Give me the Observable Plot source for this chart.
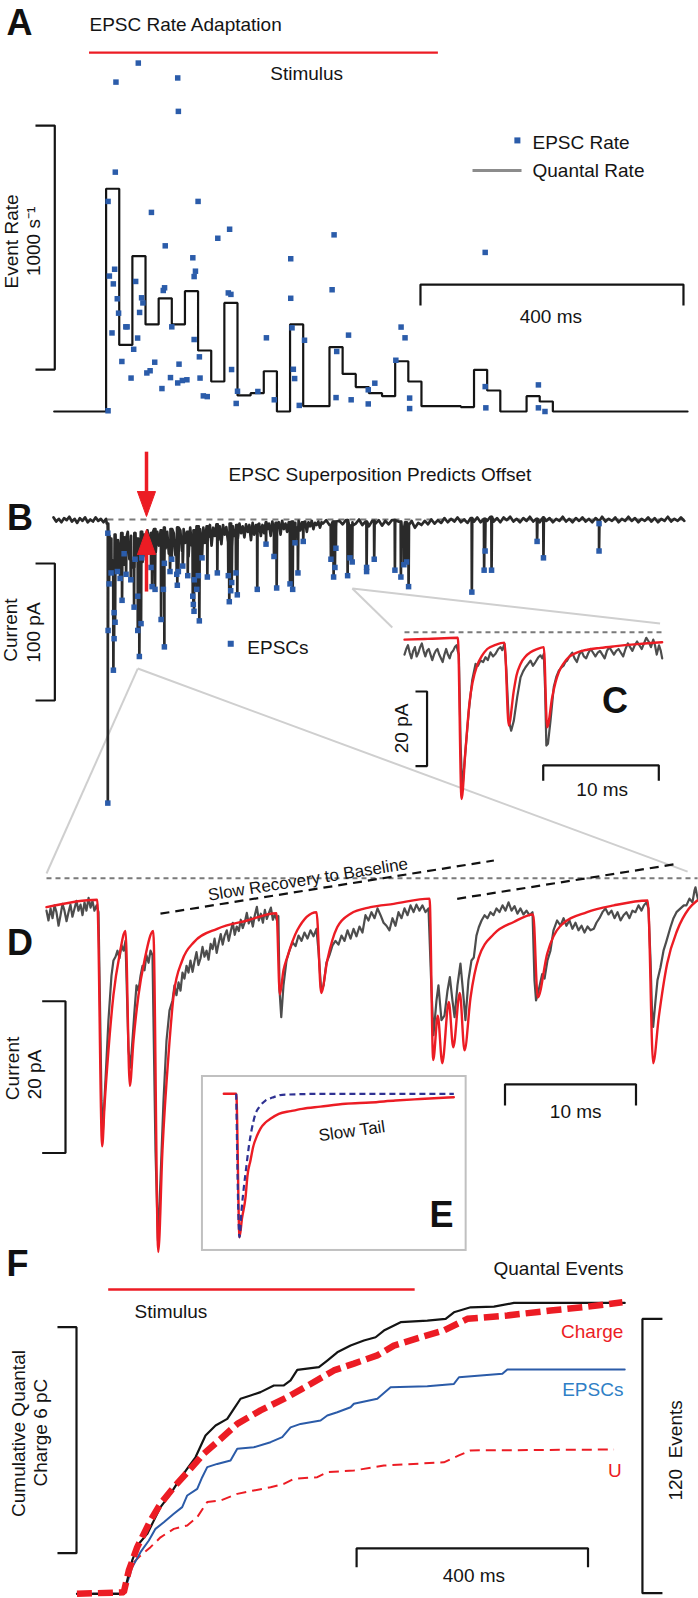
<!DOCTYPE html>
<html><head><meta charset="utf-8">
<script src="https://cdn.jsdelivr.net/npm/d3@7"></script>
<script src="https://cdn.jsdelivr.net/npm/@observablehq/plot@0.6"></script>
<style>
html,body{margin:0;padding:0;background:#fff;}
#fig{position:relative;width:698px;height:1598px;overflow:hidden;background:#fff;}
#fig svg{position:absolute;left:0;top:0;}
</style></head><body><div id="fig"></div>
<script>
// ---------- Panel A: EPSC rate (s^-1) vs time (ms) ----------
const aBinStart = [0,20,40,60,80,100,120,140,160,180,200,220,240,260,280,300,320,340,360,380,400,420,440,460,480,500,520,540,560,580,600,620,640,660];
const aBinRate  = [913,273,637,357,464,357,493,250,123,445,66,75,165,0,357,22,22,264,154,100,75,63,206,123,22,22,22,18,171,86,0,0,63,41];
const aEpsc = [[49,1428],[15,1350],[109,1367],[110,1230],[14,981],[3,861],[140,861],[69,816],[188,747],[170,710],[90,679],[347,724],[577,652],[281,626],[132,630],[13,583],[5,555],[45,533],[136,575],[134,553],[11,523],[89,507],[87,496],[186,486],[190,480],[344,499],[281,464],[17,462],[54,466],[56,445],[19,403],[51,406],[30,347],[32,347],[100,347],[283,343],[449,346],[9,322],[369,313],[244,302],[48,301],[455,302],[134,295],[302,292],[42,255],[351,246],[142,224],[441,210],[24,205],[74,202],[111,194],[67,167],[62,158],[191,172],[285,173],[38,137],[98,139],[287,135],[143,137],[123,130],[116,127],[109,117],[409,116],[658,109],[577,102],[85,94],[399,89],[200,83],[231,82],[148,64],[154,61],[350,57],[373,48],[462,55],[256,48],[198,33],[399,31],[294,25],[462,12],[578,15],[658,15],[668,0],[3,3]];

// ---------- Panel B: current (pA) vs time (ms) ----------
const bBase = [[-80,1.5],[-76,-1.5],[-72,0.5],[-68,-2],[-64,1],[-60,-0.5],[-56,2],[-52,-1.5],[-48,0.5],[-44,-2.5],[-40,1],[-36,-1],[-32,1.5],[-28,-2],[-24,0],[-20,-1.5],[-16,1.5],[-12,-1],[-8,0.5],[-4,-2],[0,0.5],[1,-3],
[3,-12],[5.5,-36],[8,-14],[10.5,-30],[13,-11],[15.5,-38],[18,-15],[20.5,-27],[23,-10],[25.5,-33],[28,-13],[30.5,-40],[33,-9],[35.5,-29],[38,-12],[40.5,-35],[43,-10],[45.5,-26],[48,-14],[50.5,-37],[53,-9],[55.5,-31],[58,-11],
[60.5,-27],[63,-8],[65.5,-22],[68,-10],[70.5,-30],[73,-7],[75.5,-24],[78,-9],[80.5,-19],[83,-8],[85.5,-28],[88,-6],[90.5,-21],[93,-9],[95.5,-25],[98,-7],[100.5,-18],[103,-10],[105.5,-26],[108,-6],[110.5,-20],[113,-8],[115.5,-23],[118,-7],[120.5,-17],[123,-9],[125.5,-27],[128,-6],[130.5,-19],[133,-8],[135.5,-22],[138,-5],[140.5,-16],[143,-7],[145.5,-20],[148,-6],
[150.5,-17],[153,-5],[155.5,-13],[158,-4],[160.5,-19],[163,-6],[165.5,-12],[168,-3.5],[170.5,-15],[173,-5],[175.5,-18],[178,-4],[180.5,-11],[183,-5.5],[185.5,-16],[188,-3],[190.5,-20],[193,-5],[195.5,-12],[198,-4],[200.5,-14],[203,-3],[205.5,-10],[208,-5],[210.5,-13],[213,-3.5],[215.5,-9],[218,-4],[220.5,-15],[223,-2.5],[225.5,-11],[228,-4],[230.5,-8],[233,-3],[235.5,-12],[238,-4],
[240.5,-10],[243,-2],[245.5,-7],[248,-3],[250.5,-12],[253,-1.5],[255.5,-8],[258,-2.5],[260.5,-6],[263,-2],[265.5,-11],[268,-1],[270.5,-7],[273,-3],[275.5,-9],[278,-2],[280.5,-5],[283,-1.5],[285.5,-10],[288,-2.5],[290.5,-6],[293,-1],[295.5,-8],[298,-2],[300.5,-4.5],[303,-1.5],[305.5,-9],[308,-2],[310.5,-5],[313,-1],[315.5,-7],[318,-2.5],[320.5,-4],[323,-1.5],[325.5,-6],[328,-2],
[330,-3],[335,-0.5],[340,-4],[345,-1.5],[350,-5],[355,-1],[360,-3.5],[365,-0.5],[370,-4.5],[375,-2],[380,-3],[385,0],[390,-4],[395,-1.5],[400,-5],[405,-1],[410,-3],[415,-0.5],[420,-4.5],[425,-1],[430,-3.5],[435,-0.5],[440,-4],[445,-1.5],[450,-5.5],[455,-2],[460,-4],[465,-1],[470,-6],[475,-2.5],[480,-4],[485,-1],[490,-3.5],[495,0],[500,-3],[505,-0.5],[510,-2.5],[515,1],[520,-2],[525,0.5],[530,-1.5],[535,1.5],[540,-2],[545,0],[550,-2.5],[555,1],[560,-1.5],[565,1.5],[570,-2],[575,0.5],[580,-1],[585,2],[590,-1.5],[595,1],[600,-2],[605,1.5],[610,-0.5],[615,2],[620,-1.5],[625,0.5],[630,-2],[635,1],[640,-1],[645,2],[650,-1.5],[655,0.5],[660,-2],[665,1.5],[670,-1],[675,1],[680,-2],[685,0.5],[690,-1],[695,2],[700,-1.5],[705,0.5],[710,-2],[715,1],[720,-1],[725,1.5],[730,-1.5],[735,0.5],[740,-2],[745,1],[750,-1],[755,2],[760,-1.5],[765,0.5],[770,-1],[775,1.5],[780,-2],[785,0.5],[790,-1],[795,2],[800,-1],[805,1],[810,-2],[815,0.5],[820,-1],[825,1.5],[830,-1.5],[835,1],[840,-2],[845,0.5],[850,-1],[855,2],[860,-1.5],[865,0.5],[870,-1],[875,1.5],[880,-1]];
const bEpsc = [[2.6,-10],[7.6,-39],[4.6,-47],[3,-81],[12.2,-68],[13.7,-75],[12.2,-87],[11.1,-110],[2.6,-207],[17.2,-38],[21.3,-43],[27.4,-25],[24.3,-59],[30.4,-40],[37.6,-44],[42.6,-64],[44.1,-29],[48.2,-56],[48.2,-81],[53.2,-76],[50.6,-100],[54.3,-28],[68.4,-35],[70,-49],[74.5,-51],[87.2,-51],[83.7,-73],[88.7,-93],[88.7,-32],[97.3,-38],[99.9,-29],[107.5,-40],[110,-38],[108.4,-48],[116.7,-34],[124.3,-41],[131.9,-56],[132.8,-62],[133.8,-67],[134.3,-44],[138,-51],[140.4,-41],[141.9,-74],[146,-28],[154.1,-42],[169.3,-39],[186,-41],[191.2,-46],[189.7,-52],[187.5,-60],[197.7,-39],[199.7,-55],[230.1,-51],[243.4,-18],[255.5,-27],[259.6,-50],[279.9,-47],[284,-51],[287.5,-17],[292,-39],[300.1,-16],[342.2,-29],[349.8,-21],[348.3,-35],[346.3,-42],[367.6,-41],[371.1,-28],[374.6,-31],[396.5,-35],[396.5,-38],[408.1,-29],[439.6,-37],[448.7,-42],[453.3,-33],[457.4,-31],[460.4,-49],[556.7,-53],[576.9,-23],[575.4,-37],[586.7,-37],[656,-16],[665.7,-28],[750.3,-3],[750.3,-23]];

// ---------- Panel C: current (pA) vs time (ms) ----------
const cFit = [[0,-2],[2,-1.8],[4.61,-1.5],[4.93,-44.7],[5.27,-31.7],[5.64,-18.3],[5.88,-13.5],[6.28,-8.9],[6.66,-6.5],[7.15,-4.5],[7.87,-3.4],[8.64,-2.8],[9.01,-25],[9.45,-15.6],[9.68,-11.6],[10.03,-8.5],[10.46,-6.5],[10.89,-5.4],[11.41,-4.6],[12.04,-4],[12.33,-25.5],[12.77,-17.4],[13.05,-13.5],[13.34,-10.7],[13.74,-8.4],[14.2,-6.7],[14.95,-5.4],[15.79,-4.7],[16.94,-4.2],[18.09,-3.8],[20.14,-3.2],[22.27,-2.7]];
const cRaw = [[0,-6],[0.15,-4.5],[0.3,-3.5],[0.45,-5.5],[0.6,-7],[0.75,-5],[0.9,-4],[1.05,-6.5],[1.2,-5.5],[1.35,-4],[1.5,-3],[1.65,-5],[1.8,-6.5],[1.95,-5],[2.1,-4.5],[2.25,-6],[2.4,-7.5],[2.55,-6],[2.7,-5],[2.85,-4.5],[3.0,-6],[3.15,-7],[3.3,-8],[3.45,-6],[3.6,-4.5],[3.75,-6],[3.9,-7],[4.05,-5.5],[4.2,-5],[4.35,-4],[4.5,-3.5],[4.6,-5],[4.7,-6],[4.85,-30],[4.99,-42.4],[5.27,-31.7],[5.56,-21],[5.85,-12.9],[6.14,-8.5],[6.35,-9],[6.57,-7.6],[6.8,-8],[7.0,-6.7],[7.2,-7.5],[7.43,-5.4],[7.65,-6.5],[7.87,-5.8],[8.1,-4.5],[8.3,-4.0],[8.45,-4.8],[8.64,-3.1],[8.8,-10],[9.01,-23.7],[9.22,-26.4],[9.45,-23.7],[9.74,-17.4],[10.03,-12.1],[10.25,-10.5],[10.46,-9.4],[10.68,-8.5],[10.89,-7.6],[11.1,-9],[11.32,-8],[11.55,-6.8],[11.75,-6.2],[11.9,-7],[12.04,-5.8],[12.15,-15],[12.26,-30.4],[12.4,-29.9],[12.62,-23.7],[12.9,-14.7],[13.12,-12],[13.34,-10.3],[13.55,-9.5],[13.77,-8.9],[13.9,-8],[14.06,-7.6],[14.25,-6.5],[14.5,-5.5],[14.7,-7],[14.9,-8],[15.1,-6],[15.3,-5],[15.5,-6.5],[15.7,-7],[15.9,-5.5],[16.1,-4.5],[16.3,-5.5],[16.5,-6.5],[16.7,-5.5],[16.9,-5],[17.1,-6],[17.3,-7],[17.5,-5],[17.7,-4],[17.9,-5],[18.1,-6],[18.3,-5],[18.5,-4.5],[18.7,-5.5],[18.9,-6.5],[19.1,-4.5],[19.3,-3],[19.5,-4],[19.7,-5],[19.9,-3.5],[20.1,-2.5],[20.3,-3.5],[20.5,-4.5],[20.7,-3],[20.9,-1.5],[21.1,-2.5],[21.3,-4],[21.5,-2],[21.65,-3.5],[21.8,-6],[22.0,-3.5],[22.15,-5],[22.27,-7]];

// ---------- Panel D: current (pA) vs time (ms) ----------
const dFit = [[0,-3.84],[3.87,-2.86],[4.25,-35.5],[4.43,-30.1],[4.73,-22.8],[5.11,-15.5],[5.57,-10.2],[6.03,-7.0],[6.36,-27.5],[6.64,-21.5],[7.02,-15.5],[7.48,-10.9],[8.15,-7.0],[8.53,-49.5],[8.85,-36.1],[9.34,-22.8],[9.72,-15.3],[10.36,-10.9],[11.24,-8.5],[13.03,-6.7],[15.32,-5.6],[17.56,-4.64],[17.81,-15.4],[18.09,-12.2],[18.37,-10.5],[19.14,-6.9],[20.61,-4.5],[20.97,-15.2],[21.43,-10.9],[22.19,-6.5],[23.21,-4.7],[24.73,-3.84],[26.51,-3.4],[29.24,-2.7],[29.52,-24.1],[29.87,-18.2],[30.21,-24.5],[30.71,-16.4],[31.05,-22.4],[31.55,-15.2],[31.91,-22.8],[32.37,-15.8],[33.0,-10.5],[34.15,-7.4],[35.67,-5.8],[37.15,-4.8],[37.5,-15.8],[38.22,-10.0],[39.24,-6.3],[41.27,-4.5],[43.31,-3.6],[45.9,-2.95],[46.31,-24.5],[46.74,-18.4],[47.38,-11.3],[48.15,-6.9],[49.03,-4.05],[49.67,-2.95]];
const dRaw = [[0,-4.3],[0.15,-5.6],[0.31,-4.0],[0.46,-5.3],[0.61,-3.6],[0.76,-4.5],[0.92,-6.3],[1.07,-4.9],[1.22,-3.4],[1.37,-4.3],[1.53,-5.7],[1.68,-4.5],[1.83,-3.5],[1.98,-5.1],[2.14,-4.0],[2.29,-3.0],[2.44,-4.3],[2.6,-3.5],[2.75,-4.9],[2.9,-3.2],[3.05,-4.3],[3.21,-2.6],[3.36,-3.9],[3.51,-3.0],[3.66,-4.3],[3.82,-3.6],[3.97,-4.5],
[4.20,-29.5],[4.31,-33.4],[4.50,-26.8],[4.73,-18.8],[4.96,-12.9],[5.11,-10.9],[5.27,-10.4],[5.42,-9.6],[5.57,-10.6],[5.73,-8.9],[5.88,-9.6],[6.03,-8.3],[6.26,-22.8],[6.41,-25.1],[6.56,-21.5],[6.72,-17.5],[6.87,-14.2],[7.02,-14.9],[7.18,-12.9],[7.33,-11.6],[7.48,-12.2],[7.63,-10.2],[7.79,-11.2],[7.94,-9.6],[8.09,-10.2],[8.32,-36.1],[8.51,-48.0],[8.70,-40.0],[8.93,-29.5],[9.16,-21.5],[9.39,-17.5],[9.62,-16.2],[9.77,-14.2],[9.92,-15.5],[10.08,-13.8],[10.23,-14.9],[10.38,-12.5],[10.53,-13.3],[10.69,-11.6],[10.84,-12.5],
[10.99,-10.9],[11.15,-12.4],[11.3,-11.0],[11.45,-9.8],[11.6,-11.5],[11.76,-10.6],[11.91,-9.1],[12.06,-10.4],[12.22,-9.6],[12.37,-10.8],[12.53,-8.7],[12.68,-9.4],[12.83,-8.0],[12.99,-9.9],[13.14,-8.6],[13.3,-7.4],[13.45,-8.8],[13.6,-7.6],[13.76,-6.9],[13.91,-8.3],[14.06,-7.1],[14.22,-5.9],[14.37,-7.5],[14.52,-6.4],[14.68,-7.0],[14.83,-5.5],[14.98,-6.6],[15.14,-5.8],[15.29,-4.6],[15.44,-6.0],[15.6,-5.2],[15.75,-6.4],[15.9,-4.9],[16.06,-3.8],[16.21,-5.6],[16.36,-4.7],[16.52,-5.9],[16.67,-4.2],[16.82,-5.4],[16.98,-4.6],[17.13,-3.9],[17.28,-5.5],[17.44,-4.8],[17.59,-5.6],[17.7,-5.0],
[17.79,-14.9],[17.92,-18.4],[18.09,-14.2],[18.32,-10.9],[18.55,-9.6],[18.78,-8.5],[19.01,-9.0],[19.24,-7.6],[19.47,-8.3],[19.69,-7.2],[19.92,-8.0],[20.15,-6.9],[20.38,-7.7],[20.61,-6.7],[20.76,-9.6],[20.97,-14.9],[21.15,-14.2],[21.37,-11.2],[21.60,-10.2],[21.83,-8.9],[22.06,-8.3],[22.29,-8.8],[22.52,-7.6],[22.75,-8.3],[22.98,-6.9],[23.21,-8.0],[23.44,-6.7],[23.66,-7.7],[23.89,-6.4],[24.12,-7.2],[24.35,-4.9],[24.58,-5.6],[24.81,-4.5],[25.04,-5.3],[25.27,-4.0],[25.50,-4.9],[25.73,-5.9],[25.95,-6.3],[26.18,-6.9],[26.41,-5.3],[26.64,-6.3],[26.87,-4.5],[27.10,-5.3],[27.33,-4.0],[27.56,-4.9],[27.79,-3.6],[28.02,-4.5],[28.24,-3.5],[28.47,-4.3],[28.70,-3.6],[28.93,-4.5],[29.16,-4.0],
[29.39,-14.9],[29.54,-20.8],[29.77,-16.2],[29.92,-14.2],[30.15,-18.8],[30.38,-18.2],[30.61,-14.9],[30.79,-13.1],[30.99,-16.2],[31.15,-18.4],[31.37,-14.2],[31.60,-11.3],[31.79,-14.9],[31.98,-18.8],[32.21,-13.5],[32.44,-10.9],[32.62,-10.5],[32.82,-7.6],[33.0,-6.5],[33.21,-5.6],[33.44,-4.9],[33.66,-5.3],[33.89,-4.5],[34.12,-4.9],[34.35,-4.0],[34.58,-4.5],[34.81,-3.6],[35.04,-4.3],[35.27,-3.2],[35.50,-4.3],[35.73,-3.7],[35.95,-4.7],[36.18,-4.0],[36.41,-4.8],[36.64,-4.3],[36.87,-4.9],[37.10,-4.5],
[37.25,-13.5],[37.37,-16.2],[37.56,-14.9],[37.84,-12.7],[38.02,-13.3],[38.24,-10.9],[38.47,-9.6],[38.70,-6.9],[38.98,-5.6],[39.24,-6.3],[39.47,-5.3],[39.69,-6.3],[39.92,-5.6],[40.15,-6.7],[40.38,-5.9],[40.61,-6.9],[40.84,-6.3],[41.07,-7.2],[41.30,-6.4],[41.53,-6.9],[41.78,-6.7],[41.98,-5.9],[42.21,-5.3],[42.44,-4.5],[42.67,-4.0],[42.90,-4.8],[43.13,-4.3],[43.36,-5.3],[43.59,-4.5],[43.82,-5.6],[44.05,-4.9],[44.27,-4.5],[44.50,-5.3],[44.73,-4.3],[44.96,-4.5],[45.19,-3.6],[45.42,-4.3],[45.60,-3.6],[45.80,-3.2],[45.95,-4.0],
[46.11,-10.9],[46.22,-17.5],[46.31,-19.7],[46.49,-16.2],[46.64,-13.5],[46.87,-11.8],[47.10,-9.6],[47.33,-8.3],[47.63,-6.5],[47.86,-5.3],[48.09,-4.5],[48.40,-4.0],[48.65,-3.6],[48.85,-3.6],[49.08,-2.7],[49.31,-3.2],[49.47,-1.6],[49.54,-1.2],[49.66,-2.3],[49.77,-3.0]];

// ---------- Panel E: model EPSC (same units as D) ----------
const eRed  = [[0,0],[0.95,0],[1.2,-19],[1.39,-16.5],[1.66,-13.7],[1.81,-10.8],[2.04,-8.8],[2.23,-7.1],[2.55,-5.5],[2.8,-4.6],[3.18,-3.8],[3.56,-3.3],[4.2,-2.65],[5.09,-2.3],[5.98,-1.99],[7.38,-1.7],[9.29,-1.32],[11.2,-1.15],[13.1,-0.89],[15,-0.69],[17.56,-0.45]];
const eBlue = [[0.95,0],[1.2,-19],[1.35,-15.5],[1.53,-12.4],[1.73,-9.5],[1.91,-7.0],[2.11,-4.9],[2.42,-2.65],[2.73,-1.7],[3.18,-0.89],[3.72,-0.5],[4.46,-0.13],[8.02,0],[17.56,0]];

// ---------- Panel F: cumulative counts (events) / charge (pC) vs time (ms) ----------
const fQuantal = [[-81,0],[0,0],[8.7,8.7],[14.5,14.6],[26,21.9],[40.5,26.2],[51.9,32],[63.5,37.9],[80.8,43.7],[95.2,49.5],[109.7,54.7],[124,59.7],[141.3,69.2],[158.7,73.6],[178.9,76.5],[190.3,80.9],[201.9,85.3],[219.2,86.7],[236.5,88.2],[259.5,91.1],[276.8,91.1],[288.4,93.3],[300,97.9],[337.4,99.1],[351.9,102],[369.2,105.6],[392.2,108.6],[415.2,110.8],[435.5,112.2],[449.8,115.1],[478.7,118.8],[524.9,119.5],[556.6,120.2],[570.9,123.1],[599.8,125.3],[640.1,125.6],[674.7,127.2],[866.3,127.2]];
const fEpscs = [[-81,0],[0,0],[14.5,11.6],[28.9,18.2],[43.3,23.3],[54.8,28.4],[69.2,31.3],[86.5,35],[101,37.9],[109.7,43],[127,45.9],[135.6,51],[144.3,55.4],[161.6,56.8],[184.6,58.3],[196.2,63.4],[224.9,64.1],[253.8,66.3],[274,68.5],[288.4,72.8],[305.7,74.3],[340.3,75.8],[351.9,78],[369.2,79.4],[392.2,81.6],[397.9,83.1],[438.4,85.3],[461.4,90.3],[524.9,90.8],[570.9,91.8],[579.6,94.7],[654.7,96.2],[663.3,98.1],[866.3,98.1]];
const fU = [[-81,0],[0,0],[14.5,13.1],[28.9,16.7],[46.2,20.4],[63.5,24.7],[86.5,28.4],[109.7,29.9],[127,33.5],[138.4,37.9],[144.3,40.1],[167.3,40.8],[196.2,43.7],[224.9,45.2],[253.8,46.6],[276.8,48.1],[294.1,50.3],[334.6,51],[351.9,53.2],[397.9,53.9],[432.5,55.4],[449.8,56.1],[553.6,57.5],[579.6,60.5],[599.8,62.7],[847.8,63.1]];
const fCharge = [[-81,0],[0,0.04],[8.7,0.62],[23.2,1.24],[46.2,1.95],[63.5,2.39],[86.5,2.83],[112.5,3.27],[138.4,3.72],[167.3,4.11],[196.2,4.51],[236.5,4.87],[282.7,5.22],[323,5.57],[363.3,5.93],[397.9,6.11],[438.4,6.33],[467.1,6.59],[513.3,6.81],[553.6,6.99],[594.1,7.3],[663.3,7.39],[738.2,7.52],[796,7.61],[862.3,7.74]];

// ---------- drawing ----------
const W = 698, H = 1598;
const RED = "#ec1c24", BLUE = "#2b5caa", INK = "#141414";
const FONT = "'Liberation Sans', Arial, Helvetica, sans-serif";
const fig = document.getElementById("fig");
function panel(x, y, marks) {
  const svg = Plot.plot({width: W, height: H, margin: 0,
    x: {...x, axis: null}, y: {...y, axis: null},
    style: {background: "transparent", overflow: "visible", fontFamily: FONT},
    marks});
  fig.appendChild(svg);
}
const pts = arr => arr.map(([x, y]) => ({x, y}));
const txt = (x, y, text, o = {}) => Plot.text([{x, y, text}], {x: "x", y: "y", text: "text", fontSize: 19, fill: INK, ...o});
const seg = (arr, o = {}) => Plot.line(pts(arr), {x: "x", y: "y", stroke: INK, strokeWidth: 2.2, strokeLinecap: "butt", strokeLinejoin: "miter", ...o});
const letter = (x, y, s) => txt(x, y, s, {fontSize: 36, fontWeight: "bold", fill: "#111"});

// Panel A
const aStep = [[-79, 0], ...aBinStart.map((t, i) => [t, aBinRate[i]]), [680, 0], [885, 0]];
panel({domain: [0, 400], range: [105.6, 368.4]}, {domain: [0, 1000], range: [411, 167]}, [
  letter(-131.8, 1592, "A"),
  txt(-25.3, 1586, "EPSC Rate Adaptation", {textAnchor: "start"}),
  seg([[-26, 1471], [505, 1471]], {stroke: RED, strokeWidth: 2.4}),
  txt(305.3, 1385, "Stimulus"),
  seg([[-107.5, 1172], [-78.1, 1172], [-78.1, 172], [-107.5, 172]]),
  txt(-144, 697, "Event Rate", {rotate: -90}),
  txt(-109.7, 697, "1000 s\u207B\u00B9", {rotate: -90}),
  Plot.line(pts(aStep), {x: "x", y: "y", curve: "step-after", stroke: INK, strokeWidth: 2.2, strokeLinejoin: "miter"}),
  Plot.dot(pts(aEpsc), {x: "x", y: "y", symbol: "square", r: 3.1, fill: BLUE}),
  Plot.dot([{x: 626, y: 1111}], {x: "x", y: "y", symbol: "square", r: 3.4, fill: BLUE}),
  txt(649, 1102, "EPSC Rate", {textAnchor: "start"}),
  seg([[557.7, 988], [632.3, 988]], {stroke: "#8c8c8c", strokeWidth: 3}),
  txt(649, 988, "Quantal Rate", {textAnchor: "start"}),
  seg([[478.5, 434], [478.5, 520], [878.8, 520], [878.8, 434]]),
  txt(677, 386, "400 ms")
]);

// Panel B (plus zoom connectors to C and D)
const bEps = bEpsc.map(([t, I]) => ({t, I})).sort((a, b) => a.t - b.t);
const base = bBase.map(([t, I]) => ({t, I}));
const bis = d3.bisector(d => d.t).right;
const envAt = t => base[Math.max(0, bis(base, t) - 1)].I;
const trace = [...base];
for (const e of bEps) { const b = envAt(e.t); trace.push({t: e.t - 0.3, I: b}, {t: e.t, I: e.I}, {t: e.t + 0.6, I: b}); }
trace.sort((a, b) => a.t - b.t);
panel({domain: [0, 400], range: [105.6, 368.4]}, {domain: [0, -100], range: [519, 656]}, [
  seg([[48.2, -108.8], [-90.7, -258.4]], {stroke: "#cfcfcf", strokeWidth: 2}),
  seg([[48.2, -108.8], [885.1, -257]], {stroke: "#cfcfcf", strokeWidth: 2}),
  seg([[374.8, -50.4], [435.6, -78.8]], {stroke: "#cfcfcf", strokeWidth: 2}),
  seg([[374.8, -50.4], [843.2, -75.9]], {stroke: "#cfcfcf", strokeWidth: 2}),
  letter(-131, 1.1, "B"),
  txt(416.8, 32.9, "EPSC Superposition Predicts Offset"),
  seg([[2, 0], [880, 0]], {stroke: "#7a7a7a", strokeWidth: 2, strokeDasharray: "6,5"}),
  seg([[-107.4, -32.1], [-78, -32.1], [-78, -132.1], [-107.4, -132.1]]),
  txt(-144.5, -80.7, "Current", {rotate: -90}),
  txt(-109.8, -82.5, "100 pA", {rotate: -90}),
  Plot.line(trace, {x: "t", y: "I", stroke: "#2a2a2a", strokeWidth: 2.7}),
  Plot.dot(bEps, {x: "t", y: "I", symbol: "square", r: 3.1, fill: BLUE}),
  Plot.dot([{t: 189.7, I: -90.7}], {x: "t", y: "I", symbol: "square", r: 3.4, fill: BLUE}),
  txt(215, -93.4, "EPSCs", {textAnchor: "start"}),
  seg([[61.5, 49.5], [61.5, 20.4]], {stroke: RED, strokeWidth: 3.5}),
  Plot.line(pts([[47.8, 20.4], [75.2, 20.4], [61.5, 2.2], [47.8, 20.4]]), {x: "x", y: "y", fill: RED, stroke: RED, strokeWidth: 1}),
  seg([[61.5, -52.6], [61.5, -25.5]], {stroke: RED, strokeWidth: 3.5}),
  Plot.line(pts([[47.8, -25.5], [75.2, -25.5], [61.5, -7.3], [47.8, -25.5]]), {x: "x", y: "y", fill: RED, stroke: RED, strokeWidth: 1})
]);

// Panel C
panel({domain: [0, 10], range: [404, 519.7]}, {domain: [0, -20], range: [631.7, 706.3]}, [
  seg([[0, 0], [22.3, 0]], {stroke: "#7a7a7a", strokeWidth: 2, strokeDasharray: "5,4"}),
  Plot.line(pts(cRaw), {x: "x", y: "y", stroke: "#4d4d4d", strokeWidth: 2.2}),
  Plot.line(pts(cFit), {x: "x", y: "y", stroke: RED, strokeWidth: 2.4, curve: "monotone-x"}),
  seg([[0.95, -15.9], [1.95, -15.9], [1.95, -35.9], [0.95, -35.9]]),
  txt(-0.2, -25.8, "20 pA", {rotate: -90}),
  seg([[11.99, -39.8], [11.99, -35.7], [21.98, -35.7], [21.98, -39.8]]),
  txt(17.09, -42.4, "10 ms"),
  letter(18.2, -18.6, "C")
]);

// Panel D
panel({domain: [0, 10], range: [46, 177]}, {domain: [0, -20], range: [877.7, 1028.7]}, [
  seg([[0, 0], [49.7, 0]], {stroke: "#7a7a7a", strokeWidth: 2, strokeDasharray: "5,4"}),
  seg([[8.7, -4.7], [34.15, 2.34]], {stroke: "#111", strokeDasharray: "9,6"}),
  seg([[31.35, -2.73], [48.15, 1.9]], {stroke: "#111", strokeDasharray: "9,6"}),
  txt(19.96, -0.17, "Slow Recovery to Baseline", {fontSize: 17, rotate: -9}),
  letter(-2.02, -8.7, "D"),
  seg([[-0.33, -16.3], [1.45, -16.3], [1.45, -36.4], [-0.33, -36.4]]),
  txt(-2.55, -25.2, "Current", {rotate: -90}),
  txt(-0.9, -26, "20 pA", {rotate: -90}),
  Plot.line(pts(dRaw), {x: "x", y: "y", stroke: "#4d4d4d", strokeWidth: 2.2}),
  Plot.line(pts(dFit), {x: "x", y: "y", stroke: RED, strokeWidth: 2.4, curve: "monotone-x"}),
  seg([[35.0, -30.1], [35.0, -27.3], [45.0, -27.3], [45.0, -30.1]]),
  txt(40.4, -31.0, "10 ms")
]);

// Panel E
panel({domain: [0, 10], range: [223.3, 354.3]}, {domain: [0, -20], range: [1093.3, 1244.3]}, [
  Plot.rect([{x1: -1.63, x2: 18.5, y1: 2.29, y2: -20.75}], {x1: "x1", x2: "x2", y1: "y1", y2: "y2", fill: "none", stroke: "#c0c0c0", strokeWidth: 2}),
  Plot.line(pts(eRed), {x: "x", y: "y", stroke: RED, strokeWidth: 2.4, curve: "monotone-x"}),
  Plot.line(pts(eBlue), {x: "x", y: "y", stroke: "#2e3192", strokeWidth: 2.2, strokeDasharray: "6,4", strokeLinecap: "butt", curve: "monotone-x"}),
  txt(9.78, -4.95, "Slow Tail", {fontSize: 17, rotate: -8}),
  letter(16.62, -16.1, "E")
]);

// Panel F (events)
panel({domain: [0, 400], range: [123.3, 354.6]}, {domain: [0, 120], range: [1593.3, 1318.9]}, [
  letter(-183.9, 144.2, "F"),
  seg([[-27, 133.1], [503, 133.1]], {stroke: RED, strokeWidth: 2.4}),
  txt(18.5, 123.1, "Stimulus", {textAnchor: "start"}),
  txt(864, 142.1, "Quantal Events", {textAnchor: "end"}),
  txt(864, 114.4, "Charge", {textAnchor: "end", fill: RED}),
  txt(864, 89, "EPSCs", {textAnchor: "end", fill: "#2f7fc6"}),
  txt(861, 53.9, "U", {textAnchor: "end", fill: RED}),
  seg([[-114.7, 116.6], [-81.8, 116.6], [-81.8, 17.75], [-114.7, 17.75]]),
  txt(-182.2, 70.1, "Cumulative Quantal", {rotate: -90}),
  txt(-144, 70.5, "Charge 6 pC", {rotate: -90}),
  seg([[931.5, 120.2], [896.9, 120.2], [896.9, 0.26], [931.5, 0.26]]),
  txt(954.5, 62.7, "120  Events", {rotate: -90}),
  seg([[402.6, 11.6], [402.6, 19.9], [802.8, 19.9], [802.8, 11.6]]),
  txt(605.5, 8.0, "400 ms"),
  Plot.line(pts(fU), {x: "x", y: "y", stroke: RED, strokeWidth: 2, strokeDasharray: "10,6", strokeLinecap: "butt"}),
  Plot.line(pts(fEpscs), {x: "x", y: "y", stroke: "#2b5ba8", strokeWidth: 2}),
  Plot.line(pts(fQuantal), {x: "x", y: "y", stroke: INK, strokeWidth: 2.2})
]);
// Panel F (charge, own y scale)
panel({domain: [0, 400], range: [123.3, 354.6]}, {domain: [0, 6], range: [1593.3, 1367.3]}, [
  Plot.line(pts(fCharge), {x: "x", y: "y", stroke: RED, strokeWidth: 6.5, strokeDasharray: "15,6", strokeLinecap: "butt", strokeLinejoin: "miter"})
]);
</script></body></html>
